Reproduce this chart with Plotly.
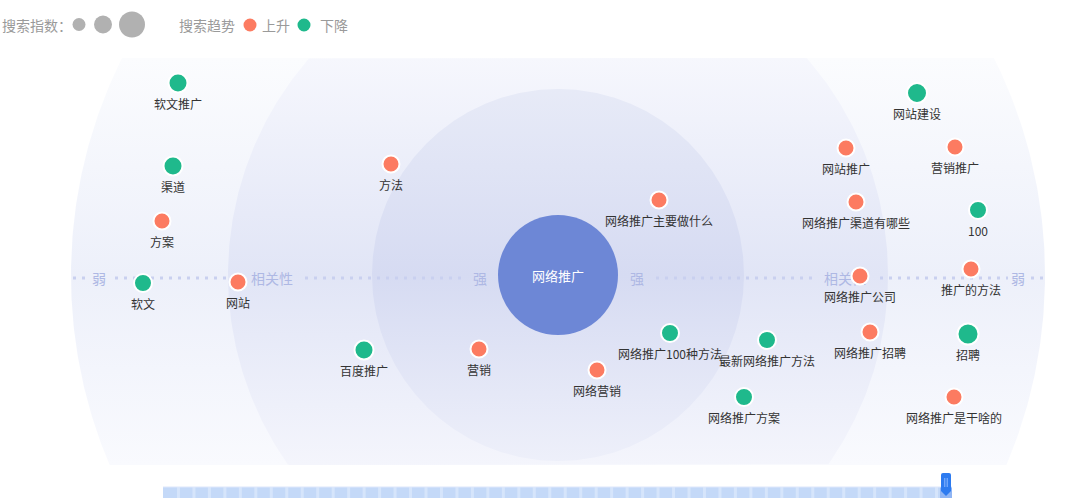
import numpy as np
import plotly.graph_objects as go

# ---------------- data ----------------
hub_name = "网络推广"

keywords = ["软文推广", "渠道", "方案", "软文", "网站", "方法", "百度推广", "营销",
            "网络推广主要做什么", "网络营销", "网络推广100种方法", "最新网络推广方法",
            "网络推广方案", "网站建设", "网站推广", "营销推广", "网络推广渠道有哪些",
            "100", "网络推广公司", "推广的方法", "网络推广招聘", "招聘", "网络推广是干啥的"]
# relevance position relative to the hub (x: left/right, y: up/down)
rel_x = [-380, -385, -396, -415, -320, -167, -194, -79,
         101, 39, 112, 209,
         186, 359, 288, 397, 298,
         420, 302, 413, 312, 410, 396]
rel_y = [192, 109, 54, -8, -7, 111, -75, -74,
         75, -95, -58, -65,
         -122, 182, 127, 128, 73,
         65, -1, 6, -57, -59, -122]
trend = ["down", "down", "up", "down", "up", "up", "down", "up",
         "up", "up", "down", "down",
         "down", "down", "up", "up", "up",
         "down", "up", "up", "up", "down", "up"]
index_size = [19, 19, 17, 18, 17, 17, 19, 17,
              17, 17, 18, 18,
              18, 20, 17, 17, 17,
              18, 17, 17, 17, 21, 17]

axis_labels = ["弱", "相关性", "强", "强", "相关性", "弱"]
axis_label_x = [-459, -286, -78, 79, 287, 460]

legend_index_sizes = [13, 18, 26]
legend_trend_names = ["上升", "下降"]

# ---------------- style ----------------
FONT = "Microsoft YaHei, Noto Sans CJK SC, sans-serif"
UP = "#fc7b61"
DOWN = "#1fb98c"
HUB = "#6d87d6"
AXIS_TXT = "#aeb8e4"
DOT = "#c9d0ef"
LABEL_GAP = 23

BAND_BOTTOM, BAND_TOP = -190, 217

fig = go.Figure()

# background rings (vertical gradient, clipped to band)
rings = [
    (487, "#fbfcfe", "#edf0fa", "#f9fafe"),
    (330, "#f6f7fd", "#e1e5f6", "#f4f5fc"),
    (186, "#eaedf8", "#d6dbf2", "#eef0fa"),
]
theta = np.linspace(0, 2 * np.pi, 721)
mid = (0 - BAND_BOTTOM) / (BAND_TOP - BAND_BOTTOM)
for r, top_c, mid_c, bot_c in rings:
    cx = r * np.cos(theta)
    cy = np.clip(r * np.sin(theta), BAND_BOTTOM, BAND_TOP)
    fig.add_trace(go.Scatter(
        x=cx, y=cy, mode="lines", line=dict(width=0), fill="toself",
        fillgradient=dict(type="vertical", start=BAND_BOTTOM, stop=BAND_TOP,
                          colorscale=[[0, bot_c], [mid, mid_c], [1, top_c]]),
        hoverinfo="skip"))

# dotted relevance axis (segments between labels)
segs = [(-485, -470), (-443, -312), (-253, -96), (98, 256), (322, 450), (473, 489)]
lx, ly = [], []
for a, b in segs:
    lx += [a, b, None]
    ly += [-3, -3, None]
fig.add_trace(go.Scatter(x=lx, y=ly, mode="lines",
                         line=dict(color=DOT, width=3, dash="3px,6px"),
                         hoverinfo="skip"))
fig.add_trace(go.Scatter(x=axis_label_x, y=[-5] * len(axis_label_x), mode="text",
                         text=axis_labels, textposition="middle center",
                         textfont=dict(family=FONT, size=14, color=AXIS_TXT),
                         hoverinfo="skip"))

# hub
fig.add_trace(go.Scatter(x=[0], y=[0], mode="markers",
                         marker=dict(size=120, color=HUB, line=dict(width=0)),
                         hoverinfo="skip"))
fig.add_trace(go.Scatter(x=[0], y=[-3], mode="text", text=[hub_name],
                         textposition="middle center",
                         textfont=dict(family=FONT, size=13, color="white"),
                         hoverinfo="skip"))

# keyword labels (below each node)
fig.add_trace(go.Scatter(x=rel_x, y=[v - LABEL_GAP for v in rel_y], mode="text",
                         text=keywords, textposition="middle center",
                         textfont=dict(family=FONT, size=12, color="#333333"),
                         cliponaxis=False, hoverinfo="skip"))

# keyword nodes
colors = [UP if t == "up" else DOWN for t in trend]
fig.add_trace(go.Scatter(x=rel_x, y=rel_y, mode="markers", text=keywords,
                         marker=dict(size=index_size, color=colors,
                                     line=dict(color="white", width=2), opacity=1),
                         cliponaxis=False))

shapes = []
annotations = []

# legend (top-left)
LEG_Y = 250
annotations.append(dict(x=-558, y=LEG_Y, xref="x", yref="y", text="搜索指数：",
                        showarrow=False, xanchor="left", yanchor="middle",
                        font=dict(family=FONT, size=14, color="#9a9a9a")))
leg_cx = [-479, -455, -426]
for cxp, d in zip(leg_cx, legend_index_sizes):
    shapes.append(dict(type="circle", xref="x", yref="y", x0=cxp - d / 2, x1=cxp + d / 2,
                       y0=LEG_Y - d / 2 + 0.5, y1=LEG_Y + d / 2 + 0.5,
                       fillcolor="#b1b1b1", line=dict(width=0)))
annotations.append(dict(x=-381, y=LEG_Y, xref="x", yref="y", text="搜索趋势",
                        showarrow=False, xanchor="left", yanchor="middle",
                        font=dict(family=FONT, size=14, color="#9a9a9a")))
for cxp, col, name, tx in zip([-308, -254], [UP, DOWN], legend_trend_names, [-298, -240]):
    shapes.append(dict(type="circle", xref="x", yref="y", x0=cxp - 6.5, x1=cxp + 6.5,
                       y0=LEG_Y - 6.5, y1=LEG_Y + 6.5, fillcolor=col, line=dict(width=0)))
    annotations.append(dict(x=tx, y=LEG_Y, xref="x", yref="y", text=name,
                            showarrow=False, xanchor="left", yanchor="middle",
                            font=dict(family=FONT, size=14, color="#9a9a9a")))

# slider at bottom
SX0, SX1 = -395, 394
SY0, SY1 = -223, -212
shapes.append(dict(type="rect", xref="x", yref="y", x0=SX0, x1=SX1, y0=SY0, y1=SY1,
                   fillcolor="#c4d9f8", line=dict(width=0), layer="above"))
n_blocks = 51
step = (SX1 - SX0) / n_blocks
for k in range(1, n_blocks):
    xs = SX0 + k * step
    shapes.append(dict(type="rect", xref="x", yref="y", x0=xs - 1.5, x1=xs + 1.5,
                       y0=SY0, y1=SY1, fillcolor="#d6e5fb", line=dict(width=0),
                       layer="above"))
shapes.append(dict(type="rect", xref="x", yref="y", x0=382, x1=SX1, y0=SY0, y1=SY1,
                   fillcolor="#8fb5f4", line=dict(width=0), layer="above"))
shapes.append(dict(type="rect", xref="x", yref="y", x0=SX0, x1=SX1, y0=SY1 - 0.5, y1=SY1 + 0.5,
                   fillcolor="#dde8fb", line=dict(width=0), layer="above"))
# handle
shapes.append(dict(type="path", xref="x", yref="y",
                   path="M 383,-200 Q 383,-198 385,-198 L 391,-198 Q 393,-198 393,-200 "
                        "L 393,-216 L 388,-221 L 383,-216 Z",
                   fillcolor="#2d7bf0", line=dict(width=0), layer="above"))
for xl in [386.8, 389.2]:
    shapes.append(dict(type="line", xref="x", yref="y", x0=xl, x1=xl, y0=-203, y1=-212,
                       line=dict(color="#8fbaff", width=1), layer="above"))

fig.update_layout(
    width=1071, height=502,
    margin=dict(l=0, r=0, t=0, b=0),
    paper_bgcolor="white", plot_bgcolor="white",
    showlegend=False,
    xaxis=dict(range=[-558, 513], visible=False, fixedrange=True),
    yaxis=dict(range=[-227, 275], visible=False, fixedrange=True),
    shapes=shapes, annotations=annotations,
    font=dict(family=FONT),
    hovermode=False,
)

fig.write_html("out.html",
               config={"displayModeBar": False},
               post_script="document.body.style.margin='0';"
                           "document.body.style.padding='0';"
                           "document.body.style.overflow='hidden';")
